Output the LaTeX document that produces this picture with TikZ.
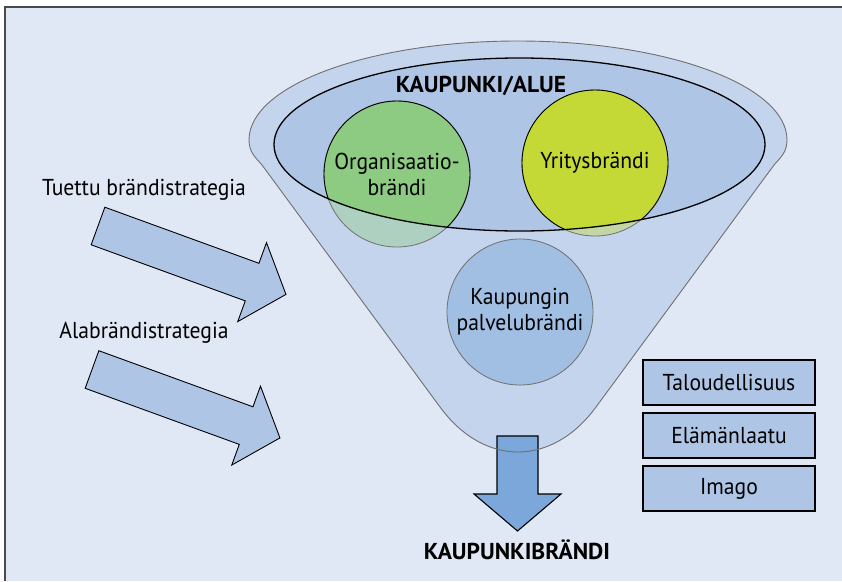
\documentclass[tikz,border=0pt]{standalone}
\usepackage{fontspec}
\setmainfont{PT Sans}[FakeStretch=0.94]
\newfontfamily\titlefont{PT Sans}[FakeStretch=1.02]
\usetikzlibrary{shapes.geometric,positioning}
\definecolor{bgcol}{HTML}{E1E8F5}
\definecolor{framecol}{HTML}{4A4A4A}
\definecolor{funnelcol}{HTML}{C3D4EC}
\definecolor{alueblue}{HTML}{AFC5E6}
\definecolor{orggreen}{HTML}{8CCB81}
\definecolor{yrityscol}{HTML}{C4D936}
\definecolor{palvelucol}{HTML}{A1BEE3}
\definecolor{downblue}{HTML}{7BA7DA}
\definecolor{edgegrey}{HTML}{707070}
\newcommand{\funnelpath}{(249,140) .. controls (249,85.3) and (369.4,41) .. (518,41)
	.. controls (666.6,41) and (787,85.3) .. (787,140)
	.. controls (787,152) and (781,157) .. (774,165) -- (596,407)
	.. controls (552,467) and (484,467) .. (440,407) -- (262,165)
	.. controls (255,157) and (249,152) .. cycle}
\tikzset{blockarrow/.pic={
	\draw[arrowbody] (0,-20) -- (164,-20) -- (164,-42) -- (200,0) -- (164,42) -- (164,20) -- (0,20) -- cycle;
}}

\begin{document}
\begin{tikzpicture}[x=1pt,y=-1pt,font=\fontsize{23}{26}\selectfont]
	% `brand' is used for the three circles in the funnel.
	% `valuebox' is used for the boxes on the right.
	\tikzstyle{brand} = [circle,minimum size=146pt,inner sep=0pt,draw=edgegrey,line width=0.8pt]
	\tikzstyle{valuebox} = [draw,fill=alueblue,line width=1.3pt,minimum width=172pt,minimum height=45pt]
	\tikzstyle{arrowbody} = [draw,fill=alueblue,line width=0.9pt]
	\tikzstyle{title} = [font=\fontsize{23}{26}\selectfont\titlefont\bfseries]
	%
	\useasboundingbox (0,0) rectangle (842,581);
	\fill[bgcol] (5,7) rectangle (842,581);
	\draw[framecol,line width=2pt] (5,581) -- (5,7) -- (842,7);

	% Funnel and the city/area ellipse.
	\fill[funnelcol] \funnelpath;
	\node[ellipse,fill=alueblue,minimum width=491pt,minimum height=173pt] (alue) at (519.5,144.5) {};
	\node[brand,fill=orggreen,fill opacity=0.4] (org) at (397,174) {};
	\node[brand,fill=yrityscol,fill opacity=0.4] (yritys) at (595,163) {};
	\node[brand,fill=palvelucol] (palvelu) at (520,312) {};
	\begin{scope}
		\clip (alue.center) ellipse [x radius=245.5pt,y radius=86.5pt];
		\filldraw[fill=orggreen,line width=0.9pt] (org.center) circle [radius=73pt];
		\filldraw[fill=yrityscol,line width=0.9pt] (yritys.center) circle [radius=73pt];
	\end{scope}
	\draw[line width=1.3pt] (alue.center) ellipse [x radius=245.5pt,y radius=86.5pt];

	% Down arrow out of the funnel.
	\draw[fill=downblue,line width=1.1pt] (497,436) -- (538,436) -- (538,494) -- (561,494)
		-- (517.5,531) -- (474,494) -- (497,494) -- cycle;
	\draw[edgegrey,line width=0.9pt] \funnelpath;

	% Texts.
	\node[title] (aluetext) at (481,86) {KAUPUNKI/ALUE};
	\node[align=center] (orgtext) at (org) {Organisaatio-\\brändi};
	\node (yritystext) at (yritys) {Yritysbrändi};
	\node[align=center] (palvelutext) at (palvelu) {Kaupungin\\palvelubrändi};
	\node[title] (kaupunkibrandi) at (517,550) {KAUPUNKIBRÄNDI};

	% Strategy arrows.
	\node (tuettu) at (144,190) {Tuettu brändistrategia};
	\pic[rotate=-20] at (98,226) {blockarrow};
	\node (ala) at (144,333) {Alabrändistrategia};
	\pic[rotate=-20] at (92,369.5) {blockarrow};

	% Boxes on the right.
	\node[valuebox] (talous) at (729,382.5) {Taloudellisuus};
	\node[valuebox,below=6.7pt of talous] (elama) {Elämänlaatu};
	\node[valuebox,below=6.7pt of elama] (imago) {Imago};
\end{tikzpicture}
\end{document}
